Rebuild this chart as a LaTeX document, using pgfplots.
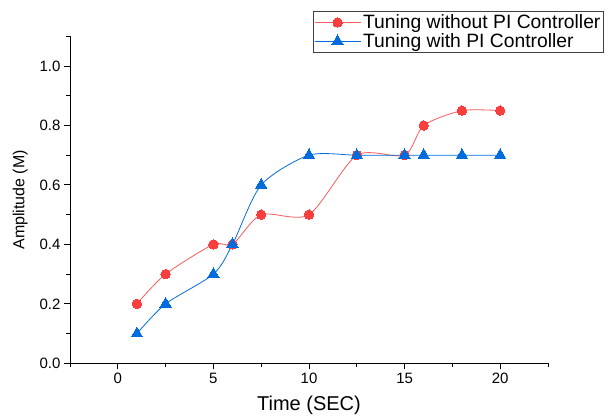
\documentclass[border=0pt]{standalone}
\usepackage{fontspec}
\setmainfont{Liberation Sans}
\usepackage{pgfplots}
\pgfplotsset{compat=1.18}
\definecolor{ored}{RGB}{250,62,62}
\definecolor{oblue}{RGB}{0,108,222}

\begin{document}
\begin{tikzpicture}
\begin{axis}[
    scale only axis,
    width=478pt, height=327pt,
    xmin=-2.5, xmax=22.5,
    ymin=0, ymax=1.1,
    axis lines*=left,
    axis line style={line width=0.9pt, black},
    xtick={0,5,10,15,20},
    minor xtick={-2.5,2.5,7.5,12.5,17.5,22.5},
    ytick={0,0.2,0.4,0.6,0.8,1.0},
    minor ytick={0.1,0.3,0.5,0.7,0.9,1.1},
    tick align=outside,
    major tick length=6pt, minor tick length=3.5pt,
    every tick/.style={black, line width=0.9pt},
    yticklabel style={/pgf/number format/fixed, /pgf/number format/fixed zerofill, /pgf/number format/precision=1},
    /pgf/number format/assume math mode=true,
    tick label style={font=\fontsize{15}{15}\selectfont},
    xlabel={Time (SEC)},
    ylabel={Amplitude (M)},
    xlabel style={font=\fontsize{20}{20}\selectfont, yshift=-6pt},
    ylabel style={font=\fontsize{16}{16}\selectfont, yshift=5pt},
    legend style={at={(0.508,1.0765)}, anchor=north west,
        font=\fontsize{19.3}{19.3}\selectfont, draw=black!75, line width=0.8pt,
        inner xsep=1pt, inner ysep=1pt, row sep=-0.5pt, cells={anchor=west}},
    legend image code/.code={\draw[mark repeat=2,mark phase=2] plot coordinates {(0pt,0pt) (23pt,0pt) (46pt,0pt)};},
    clip=false,
]
\addplot[color=ored!85, line width=0.8pt, smooth, tension=0.45,
    mark=*, mark size=4.7pt, mark options={fill=ored, draw=ored, line width=0pt}]
    coordinates {(1,0.2) (2.5,0.3) (5,0.4) (6,0.4) (7.5,0.5) (10,0.5) (12.5,0.7) (15,0.7) (16,0.8) (18,0.85) (20,0.85)};
\addlegendentry{Tuning without PI Controller}
\addplot[color=oblue, line width=0.8pt, smooth, tension=0.45,
    mark=triangle*, mark size=6.5pt, mark options={fill=oblue, draw=oblue, line width=0pt}]
    coordinates {(1,0.1) (2.5,0.2) (5,0.3) (6,0.4) (7.5,0.6) (10,0.7) (12.5,0.7) (15,0.7) (16,0.7) (18,0.7) (20,0.7)};
\addlegendentry{Tuning with PI Controller}
\end{axis}
\pgfresetboundingbox
\path ([shift={(-70pt,-54pt)}]current axis.south west) rectangle ([shift={(63pt,36.3pt)}]current axis.north east);
\end{tikzpicture}
\end{document}
